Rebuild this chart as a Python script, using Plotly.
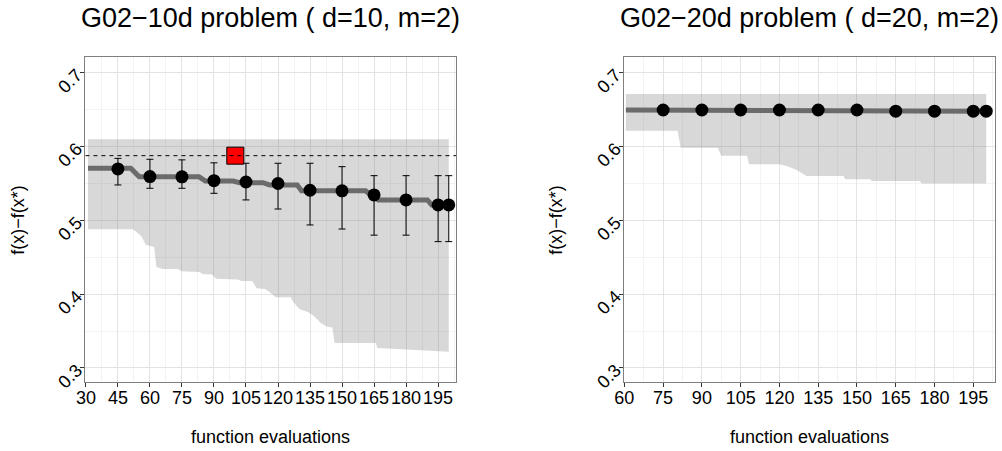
import plotly.graph_objects as go

# ---------------- data ----------------
# left panel: G02-10d
l_pts_x = [45, 60, 75, 90, 105, 120, 135, 150, 165, 180, 195, 200]
l_pts_y = [0.5697, 0.5593, 0.559, 0.5538, 0.552, 0.550, 0.5408, 0.540, 0.5345, 0.5277, 0.521, 0.521]
l_pts_top = [0.584, 0.5828, 0.582, 0.578, 0.5774, 0.5774, 0.5774, 0.5728, 0.5606, 0.5606, 0.5606, 0.5606]
l_pts_bot = [0.548, 0.5435, 0.5435, 0.5367, 0.5277, 0.5154, 0.4938, 0.4883, 0.480, 0.480, 0.4712, 0.4712]

l_line_x = [31, 51, 55, 83, 86, 99, 102, 113, 116, 129, 131, 161, 167, 190, 192, 200]
l_line_y = [0.5706, 0.5706, 0.559, 0.559, 0.5534, 0.5534, 0.551, 0.551, 0.548, 0.548, 0.5403,
            0.540, 0.5277, 0.5277, 0.5209, 0.5209]

l_lo_x = [31, 52, 56, 58, 62, 63, 66, 73, 75, 83, 85, 89, 91, 101, 103, 108, 110, 114, 116, 119,
          126, 127, 130, 134, 137, 140, 143, 145.5, 146.5, 165.8, 166.5, 200]
l_lo_y = [0.488, 0.488, 0.479, 0.467, 0.464, 0.437, 0.434, 0.434, 0.431, 0.430, 0.427, 0.427, 0.421,
          0.420, 0.418, 0.418, 0.408, 0.407, 0.403, 0.396, 0.396, 0.390, 0.380, 0.376, 0.370, 0.361,
          0.356, 0.355, 0.334, 0.334, 0.327, 0.322]
l_hi_x = [31, 200]
l_hi_y = [0.61, 0.61]

l_target = 0.5877
l_best_x = [100]
l_best_y = [0.5877]

# right panel: G02-20d
r_pts_x = [75, 90, 105, 120, 135, 150, 165, 180, 195, 200]
r_pts_y = [0.6496, 0.6496, 0.6496, 0.6496, 0.6496, 0.6496, 0.648, 0.648, 0.648, 0.648]

r_line_x = [60.6, 152, 158, 200]
r_line_y = [0.6496, 0.6496, 0.648, 0.648]

r_lo_x = [60.6, 80.6, 81.8, 96.1, 97.5, 107.5, 108.2, 120, 122.8, 126.7, 130.5, 144.8, 145.5,
          155.1, 155.8, 174.4, 175, 200]
r_lo_y = [0.6215, 0.6215, 0.5985, 0.5985, 0.5877, 0.5877, 0.576, 0.576, 0.5737, 0.5683, 0.5602,
          0.5602, 0.5557, 0.5557, 0.5534, 0.5534, 0.550, 0.550]
r_hi_x = [60.6, 200]
r_hi_y = [0.6713, 0.6713]

titles = ["G02\u221210d problem ( d=10, m=2)", "G02\u221220d problem ( d=20, m=2)"]
x_title = "function evaluations"
y_title = "f(x)\u2212f(x*)"
y_ticks = [0.3, 0.4, 0.5, 0.6, 0.7]

# ---------------- style ----------------
FONT = "Liberation Sans, Arial, sans-serif"
RIBBON = "rgba(127,127,127,0.3)"
LINE = "#6b6b6b"

fig = go.Figure()

def add_panel(xa, ya, lo_x, lo_y, hi_x, hi_y, line_x, line_y, px, py, top=None, bot=None):
    fig.add_trace(go.Scatter(
        x=lo_x + hi_x[::-1], y=lo_y + hi_y[::-1], fill="toself", fillcolor=RIBBON,
        line=dict(width=0), mode="lines", hoverinfo="skip", showlegend=False,
        xaxis=xa, yaxis=ya))
    fig.add_trace(go.Scatter(
        x=line_x, y=line_y, mode="lines", line=dict(color=LINE, width=5),
        showlegend=False, xaxis=xa, yaxis=ya))
    err = None
    if top is not None:
        err = dict(type="data", symmetric=False,
                   array=[t - y for t, y in zip(top, py)],
                   arrayminus=[y - b for b, y in zip(bot, py)],
                   color="black", thickness=1, width=3.5)
    fig.add_trace(go.Scatter(
        x=px, y=py, mode="markers", marker=dict(color="black", size=13),
        error_y=err, showlegend=False, xaxis=xa, yaxis=ya))

add_panel("x", "y", l_lo_x, l_lo_y, l_hi_x, l_hi_y, l_line_x, l_line_y,
          l_pts_x, l_pts_y, l_pts_top, l_pts_bot)
fig.add_trace(go.Scatter(
    x=l_best_x, y=l_best_y, mode="markers",
    marker=dict(symbol="square", color="#ff0000", size=17, line=dict(color="black", width=1)),
    showlegend=False, xaxis="x", yaxis="y"))
add_panel("x2", "y2", r_lo_x, r_lo_y, r_hi_x, r_hi_y, r_line_x, r_line_y, r_pts_x, r_pts_y)

fig.add_shape(type="line", xref="x domain", yref="y", x0=0, x1=1, y0=l_target, y1=l_target,
              line=dict(color="black", width=1, dash="4px,4px"), layer="above")

def xaxis(domain, rng, tick0):
    return dict(domain=domain, range=rng, tick0=tick0, dtick=15, tickmode="linear",
                tickangle=0, automargin=False, ticklabelstandoff=-5,
                showgrid=True, gridcolor="#e3e3e3", gridwidth=1,
                minor=dict(showgrid=True, gridcolor="#f3f3f3", dtick=7.5, tick0=tick0, ticks=""),
                showline=True, linecolor="#7f7f7f", linewidth=1, mirror=True,
                ticks="outside", ticklen=4, tickcolor="#333333",
                tickfont=dict(family=FONT, size=18, color="black"), zeroline=False)

def yaxis(domain, anchor):
    return dict(domain=domain, range=[0.2806, 0.721], anchor=anchor, automargin=False,
                tickvals=y_ticks, tickangle=-45,
                showgrid=True, gridcolor="#e3e3e3", gridwidth=1,
                minor=dict(showgrid=True, gridcolor="#f3f3f3", tickvals=[0.35, 0.45, 0.55, 0.65], ticks=""),
                showline=True, linecolor="#7f7f7f", linewidth=1, mirror=True,
                ticks="outside", ticklen=4, tickcolor="#333333",
                tickfont=dict(family=FONT, size=18, color="black"), zeroline=False)

ydom = [0.1523, 0.873]
fig.update_layout(
    width=1002, height=451, margin=dict(l=0, r=0, t=0, b=0),
    paper_bgcolor="white", plot_bgcolor="white",
    font=dict(family=FONT, color="black"),
    xaxis=dict(xaxis(domain=[0.0853, 0.4551], rng=[29.8, 203.4], tick0=30), anchor="y"),
    yaxis=yaxis(ydom, "x"),
    xaxis2=dict(xaxis(domain=[0.6231, 0.993], rng=[60, 203.4], tick0=60), anchor="y2"),
    yaxis2=yaxis(ydom, "x2"),
)

ann = []
for cx, t in [((0.0853 + 0.4551) / 2, titles[0]), ((0.6231 + 0.993) / 2, titles[1])]:
    ann.append(dict(text=t, x=cx, y=1 - 18 / 451, xref="paper", yref="paper", showarrow=False,
                    xanchor="center", yanchor="middle", font=dict(family=FONT, size=27, color="black")))
    ann.append(dict(text=x_title, x=cx, y=(451 - 437) / 451, xref="paper", yref="paper",
                    showarrow=False, xanchor="center", yanchor="middle",
                    font=dict(family=FONT, size=18, color="black")))
for yx in [18 / 1002, 556 / 1002]:
    ann.append(dict(text=y_title, x=yx, y=(ydom[0] + ydom[1]) / 2, xref="paper", yref="paper",
                    showarrow=False, xanchor="center", yanchor="middle", textangle=-90,
                    font=dict(family=FONT, size=18, color="black")))
fig.update_layout(annotations=ann)

fig.write_html("out.html", config={"displayModeBar": False},
               post_script="document.body.style.margin='0';document.body.style.overflow='hidden';")
